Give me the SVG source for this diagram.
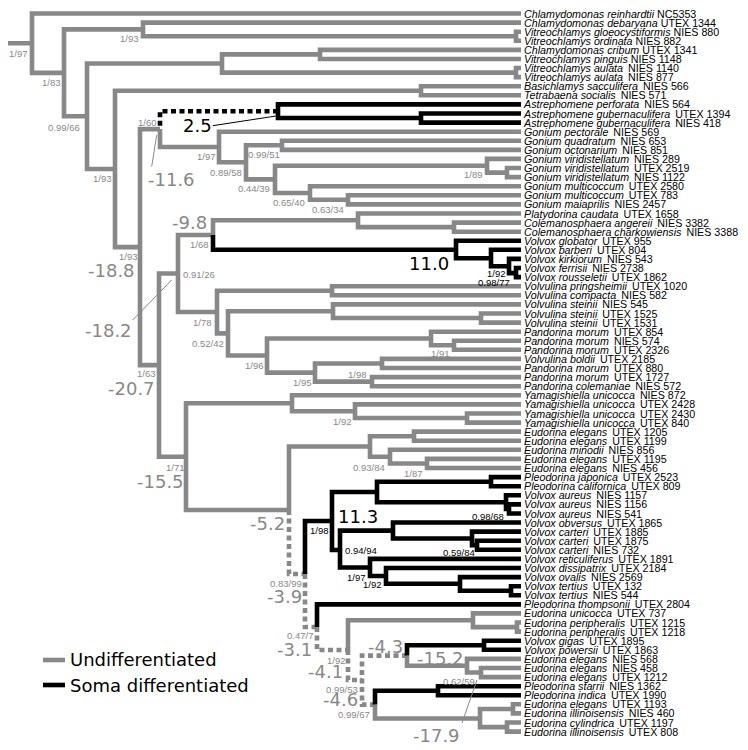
<svg xmlns="http://www.w3.org/2000/svg" width="748" height="750" viewBox="0 0 748 750">
<style>
.g{fill:none;stroke:#888;stroke-width:4.6;stroke-linejoin:miter}
.b{fill:none;stroke:#000;stroke-width:4.6;stroke-linejoin:miter}
.gd{fill:none;stroke:#888;stroke-width:4.6;stroke-dasharray:5 3.5}
.bd{fill:none;stroke:#000;stroke-width:4.6;stroke-dasharray:5 3.5}
.pg{fill:none;stroke:#888;stroke-width:1}
.pb{fill:none;stroke:#000;stroke-width:1}
.lf{font-family:"Liberation Sans",Arial,sans-serif;font-size:10.7px;fill:#000}
.i{font-style:italic}
.s{font-family:"Liberation Sans",Arial,sans-serif;font-size:9.5px;fill:#888}
.sb{font-family:"Liberation Sans",Arial,sans-serif;font-size:9.5px;fill:#000}
.big{font-family:"DejaVu Sans",sans-serif;font-size:18px;fill:#888}
.bigb{font-family:"DejaVu Sans",sans-serif;font-size:18px;fill:#000}
.leg{font-family:"DejaVu Sans",sans-serif;font-size:18px;fill:#000}
</style>
<rect width="748" height="750" fill="#fff"/>
<g id="connectors">
<path class="g" d="M8 43.2H32M521 13.5H32V72.9H64M143 29.4H64V116.2H87M521 22.6H143V36.2H516M521 31.7H516V40.8H521M222 63.5H87V169H115M320 54.4H222V72.6H516M521 49.9H320V59H521M521 68H516V77.1H521M421 90.8H115V247.1H140M521 86.2H421V95.3H521M160 129.1H140V365.1H159M160 129.1V147H219M521 131.7H219V162.3H246M282 145.3H246V179.4H275M521 140.8H282V149.9H521M487 165.7H275V193H310M521 158.9H487V172.6H507M521 168H507V177.1H521M521 186.2H310V199.8H348M521 195.3H348V204.4H521"/>
<path class="g" d="M178 273.5H159V456.7H186M213 235H178V312H217M358 220.3H213V235M521 213.5H358V227.1H454M521 222.6H454V231.7H521M332 290.7H217V333.4H228M521 286.2H332V295.3H521M333 311.2H228V355.5H267M521 304.4H333V318H481M521 313.5H481V322.6H521M431 338.5H267V372.6H315M521 331.7H431V345.3H454M521 340.7H454V349.8H521M382 363.5H315V381.6H372M521 358.9H382V368H521M521 377.1H372V386.2H521"/>
<path class="g" d="M292 403.3H186V510H289M521 395.3H292V411.2H355M521 404.4H355V418H467M521 413.5H467V422.6H521M370 446.5H289V510M414 436.2H370V456.7H390M521 431.6H414V440.7H521M521 449.8H390V463.5H427M521 458.9H427V468H521"/>
<path class="g" d="M473 620.3H348V650M521 613.4H473V627.1H517M521 622.5H517V631.6H521M407 655.6V665.8H467M521 658.9H467V672.5H481M521 668H481V677.1H521M375 704.6V718.5H480M513 709H480V727.1H507M521 704.3H513V713.4H521M521 722.5H507V731.6H521"/>
<path class="gd" d="M289 510V574H305M305 574V627H317M317 627V650H348M348 650V680H362M407 655.6H362V704.6H375"/>
<path class="bd" d="M278 111.2H160V129.1"/>
<path class="b" d="M521 104.4H278V118H421M521 113.5H421V122.6H521M213 235V249.8H456M521 240.8H456V258.3H491M521 249.8H491V266.3H509M521 258.9H509V273.1H516M521 268H516V277.1H521"/>
<path class="b" d="M332 521H305V574M377 492H332V550H340M491 481.7H377V502.2H506M521 477.1H491V486.2H521M521 495.3H506V509H509M521 504.4H509V513.5H521M393 530.6H340V567.5H370M521 522.5H393V538.5H472M521 531.6H472V545.3H477M521 540.7H477V549.8H521M521 558.9H370V576H386M521 568H386V583.8H460M521 577.1H460V590.7H511M521 586.2H511V595.3H521"/>
<path class="b" d="M521 604.4H317V627M484 645.3H407V655.6M521 640.7H484V649.8H521M438 690.7H375V704.6M521 686.2H438V695.3H521"/>
<path class="pb" d="M212.7 125.7L276 116"/>
<path class="pg" d="M151.7 166.7L156.7 135M132.7 320L171.7 280M462 723L477 680"/>
</g>
<g id="leaves" class="lf">
<g id="leaf1"><text x="524" y="17.5"><tspan class="i">Chlamydomonas reinhardtii</tspan> NC5353</text></g>
<g id="leaf2"><text x="524" y="26.6"><tspan class="i">Chlamydomonas debaryana</tspan> UTEX 1344</text></g>
<g id="leaf3"><text x="524" y="35.7"><tspan class="i">Vitreochlamys gloeocystiformis</tspan> NIES 880</text></g>
<g id="leaf4"><text x="524" y="44.8"><tspan class="i">Vitreochlamys ordinata</tspan> NIES 882</text></g>
<g id="leaf5"><text x="524" y="53.9"><tspan class="i">Chlamydomonas cribum</tspan> UTEX 1341</text></g>
<g id="leaf6"><text x="524" y="63"><tspan class="i">Vitreochlamys pinguis</tspan> NIES 1148</text></g>
<g id="leaf7"><text x="524" y="72"><tspan class="i">Vitreochlamys aulata</tspan><tspan dx="2"> NIES 1140</tspan></text></g>
<g id="leaf8"><text x="524" y="81.1"><tspan class="i">Vitreochlamys aulata</tspan><tspan dx="2"> NIES 877</tspan></text></g>
<g id="leaf9"><text x="524" y="90.2"><tspan class="i">Basichlamys sacculifera</tspan><tspan dx="2"> NIES 566</tspan></text></g>
<g id="leaf10"><text x="524" y="99.3"><tspan class="i">Tetrabaena socialis</tspan><tspan dx="2"> NIES 571</tspan></text></g>
<g id="leaf11"><text x="524" y="108.4"><tspan class="i">Astrephomene perforata</tspan><tspan dx="2"> NIES 564</tspan></text></g>
<g id="leaf12"><text x="524" y="117.5"><tspan class="i">Astrephomene gubernaculifera</tspan><tspan dx="2"> UTEX 1394</tspan></text></g>
<g id="leaf13"><text x="524" y="126.6"><tspan class="i">Astrephomene gubernaculifera</tspan><tspan dx="2"> NIES 418</tspan></text></g>
<g id="leaf14"><text x="524" y="135.7"><tspan class="i">Gonium pectorale</tspan><tspan dx="2"> NIES 569</tspan></text></g>
<g id="leaf15"><text x="524" y="144.8"><tspan class="i">Gonium quadratum</tspan><tspan dx="2"> NIES 653</tspan></text></g>
<g id="leaf16"><text x="524" y="153.9"><tspan class="i">Gonium octonarium</tspan><tspan dx="2"> NIES 851</tspan></text></g>
<g id="leaf17"><text x="524" y="162.9"><tspan class="i">Gonium viridistellatum</tspan><tspan dx="2"> NIES 289</tspan></text></g>
<g id="leaf18"><text x="524" y="172"><tspan class="i">Gonium viridistellatum</tspan><tspan dx="2"> UTEX 2519</tspan></text></g>
<g id="leaf19"><text x="524" y="181.1"><tspan class="i">Gonium viridistellatum</tspan><tspan dx="2"> NIES 1122</tspan></text></g>
<g id="leaf20"><text x="524" y="190.2"><tspan class="i">Gonium multicoccum</tspan><tspan dx="2"> UTEX 2580</tspan></text></g>
<g id="leaf21"><text x="524" y="199.3"><tspan class="i">Gonium multicoccum</tspan><tspan dx="2"> UTEX 783</tspan></text></g>
<g id="leaf22"><text x="524" y="208.4"><tspan class="i">Gonium maiaprilis</tspan><tspan dx="2"> NIES 2457</tspan></text></g>
<g id="leaf23"><text x="524" y="217.5"><tspan class="i">Platydorina caudata</tspan><tspan dx="2"> UTEX 1658</tspan></text></g>
<g id="leaf24"><text x="524" y="226.6"><tspan class="i">Colemanosphaera angereii</tspan><tspan dx="2"> NIES 3382</tspan></text></g>
<g id="leaf25"><text x="524" y="235.7"><tspan class="i">Colemanosphaera charkowiensis</tspan><tspan dx="2"> NIES 3388</tspan></text></g>
<g id="leaf26"><text x="524" y="244.8"><tspan class="i">Volvox globator</tspan><tspan dx="2"> UTEX 955</tspan></text></g>
<g id="leaf27"><text x="524" y="253.8"><tspan class="i">Volvox barberi</tspan><tspan dx="2"> UTEX 804</tspan></text></g>
<g id="leaf28"><text x="524" y="262.9"><tspan class="i">Volvox kirkiorum</tspan><tspan dx="2"> NIES 543</tspan></text></g>
<g id="leaf29"><text x="524" y="272"><tspan class="i">Volvox ferrisii</tspan><tspan dx="2"> NIES 2738</tspan></text></g>
<g id="leaf30"><text x="524" y="281.1"><tspan class="i">Volvox rousseletii</tspan><tspan dx="2"> UTEX 1862</tspan></text></g>
<g id="leaf31"><text x="524" y="290.2"><tspan class="i">Volvulina pringsheimii</tspan><tspan dx="2"> UTEX 1020</tspan></text></g>
<g id="leaf32"><text x="524" y="299.3"><tspan class="i">Volvulina compacta</tspan><tspan dx="2"> NIES 582</tspan></text></g>
<g id="leaf33"><text x="524" y="308.4"><tspan class="i">Volvulina steinii</tspan><tspan dx="2"> NIES 545</tspan></text></g>
<g id="leaf34"><text x="524" y="317.5"><tspan class="i">Volvulina steinii</tspan><tspan dx="2"> UTEX 1525</tspan></text></g>
<g id="leaf35"><text x="524" y="326.6"><tspan class="i">Volvulina steinii</tspan><tspan dx="2"> UTEX 1531</tspan></text></g>
<g id="leaf36"><text x="524" y="335.7"><tspan class="i">Pandorina morum</tspan><tspan dx="2"> UTEX 854</tspan></text></g>
<g id="leaf37"><text x="524" y="344.7"><tspan class="i">Pandorina morum</tspan><tspan dx="2"> NIES 574</tspan></text></g>
<g id="leaf38"><text x="524" y="353.8"><tspan class="i">Pandorina morum</tspan><tspan dx="2"> UTEX 2326</tspan></text></g>
<g id="leaf39"><text x="524" y="362.9"><tspan class="i">Volvulina boldii</tspan><tspan dx="2"> UTEX 2185</tspan></text></g>
<g id="leaf40"><text x="524" y="372"><tspan class="i">Pandorina morum</tspan><tspan dx="2"> UTEX 880</tspan></text></g>
<g id="leaf41"><text x="524" y="381.1"><tspan class="i">Pandorina morum</tspan><tspan dx="2"> UTEX 1727</tspan></text></g>
<g id="leaf42"><text x="524" y="390.2"><tspan class="i">Pandorina colemaniae</tspan><tspan dx="2"> NIES 572</tspan></text></g>
<g id="leaf43"><text x="524" y="399.3"><tspan class="i">Yamagishiella unicocca</tspan><tspan dx="2"> NIES 872</tspan></text></g>
<g id="leaf44"><text x="524" y="408.4"><tspan class="i">Yamagishiella unicocca</tspan><tspan dx="2"> UTEX 2428</tspan></text></g>
<g id="leaf45"><text x="524" y="417.5"><tspan class="i">Yamagishiella unicocca</tspan><tspan dx="2"> UTEX 2430</tspan></text></g>
<g id="leaf46"><text x="524" y="426.6"><tspan class="i">Yamagishiella unicocca</tspan><tspan dx="2"> UTEX 840</tspan></text></g>
<g id="leaf47"><text x="524" y="435.6"><tspan class="i">Eudorina elegans</tspan><tspan dx="2"> UTEX 1205</tspan></text></g>
<g id="leaf48"><text x="524" y="444.7"><tspan class="i">Eudorina elegans</tspan><tspan dx="2"> UTEX 1199</tspan></text></g>
<g id="leaf49"><text x="524" y="453.8"><tspan class="i">Eudorina minodii</tspan><tspan dx="2"> NIES 856</tspan></text></g>
<g id="leaf50"><text x="524" y="462.9"><tspan class="i">Eudorina elegans</tspan><tspan dx="2"> UTEX 1195</tspan></text></g>
<g id="leaf51"><text x="524" y="472"><tspan class="i">Eudorina elegans</tspan><tspan dx="2"> NIES 456</tspan></text></g>
<g id="leaf52"><text x="524" y="481.1"><tspan class="i">Pleodorina japonica</tspan><tspan dx="2"> UTEX 2523</tspan></text></g>
<g id="leaf53"><text x="524" y="490.2"><tspan class="i">Pleodorina californica</tspan><tspan dx="2"> UTEX 809</tspan></text></g>
<g id="leaf54"><text x="524" y="499.3"><tspan class="i">Volvox aureus</tspan><tspan dx="2"> NIES 1157</tspan></text></g>
<g id="leaf55"><text x="524" y="508.4"><tspan class="i">Volvox aureus</tspan><tspan dx="2"> NIES 1156</tspan></text></g>
<g id="leaf56"><text x="524" y="517.5"><tspan class="i">Volvox aureus</tspan><tspan dx="2"> NIES 541</tspan></text></g>
<g id="leaf57"><text x="524" y="526.5"><tspan class="i">Volvox obversus</tspan><tspan dx="2"> UTEX 1865</tspan></text></g>
<g id="leaf58"><text x="524" y="535.6"><tspan class="i">Volvox carteri</tspan><tspan dx="2"> UTEX 1885</tspan></text></g>
<g id="leaf59"><text x="524" y="544.7"><tspan class="i">Volvox carteri</tspan><tspan dx="2"> UTEX 1875</tspan></text></g>
<g id="leaf60"><text x="524" y="553.8"><tspan class="i">Volvox carteri</tspan><tspan dx="2"> NIES 732</tspan></text></g>
<g id="leaf61"><text x="524" y="562.9"><tspan class="i">Volvox reticuliferus</tspan><tspan dx="2"> UTEX 1891</tspan></text></g>
<g id="leaf62"><text x="524" y="572"><tspan class="i">Volvox dissipatrix</tspan><tspan dx="2"> UTEX 2184</tspan></text></g>
<g id="leaf63"><text x="524" y="581.1"><tspan class="i">Volvox ovalis</tspan><tspan dx="2"> NIES 2569</tspan></text></g>
<g id="leaf64"><text x="524" y="590.2"><tspan class="i">Volvox tertius</tspan><tspan dx="2"> UTEX 132</tspan></text></g>
<g id="leaf65"><text x="524" y="599.3"><tspan class="i">Volvox tertius</tspan><tspan dx="2"> NIES 544</tspan></text></g>
<g id="leaf66"><text x="524" y="608.4"><tspan class="i">Pleodorina thompsonii</tspan><tspan dx="2"> UTEX 2804</tspan></text></g>
<g id="leaf67"><text x="524" y="617.4"><tspan class="i">Eudorina unicocca</tspan><tspan dx="2"> UTEX 737</tspan></text></g>
<g id="leaf68"><text x="524" y="626.5"><tspan class="i">Eudorina peripheralis</tspan><tspan dx="2"> UTEX 1215</tspan></text></g>
<g id="leaf69"><text x="524" y="635.6"><tspan class="i">Eudorina peripheralis</tspan><tspan dx="2"> UTEX 1218</tspan></text></g>
<g id="leaf70"><text x="524" y="644.7"><tspan class="i">Volvox gigas</tspan><tspan dx="2"> UTEX 1895</tspan></text></g>
<g id="leaf71"><text x="524" y="653.8"><tspan class="i">Volvox powersii</tspan><tspan dx="2"> UTEX 1863</tspan></text></g>
<g id="leaf72"><text x="524" y="662.9"><tspan class="i">Eudorina elegans</tspan><tspan dx="2"> NIES 568</tspan></text></g>
<g id="leaf73"><text x="524" y="672"><tspan class="i">Eudorina elegans</tspan><tspan dx="2"> NIES 458</tspan></text></g>
<g id="leaf74"><text x="524" y="681.1"><tspan class="i">Eudorina elegans</tspan><tspan dx="2"> UTEX 1212</tspan></text></g>
<g id="leaf75"><text x="524" y="690.2"><tspan class="i">Pleodorina starrii</tspan><tspan dx="2"> NIES 1362</tspan></text></g>
<g id="leaf76"><text x="524" y="699.3"><tspan class="i">Pleodorina indica</tspan><tspan dx="2"> UTEX 1990</tspan></text></g>
<g id="leaf77"><text x="524" y="708.3"><tspan class="i">Eudorina elegans</tspan><tspan dx="2"> UTEX 1193</tspan></text></g>
<g id="leaf78"><text x="524" y="717.4"><tspan class="i">Eudorina illinoisensis</tspan><tspan dx="2"> NIES 460</tspan></text></g>
<g id="leaf79"><text x="524" y="726.5"><tspan class="i">Eudorina cylindrica</tspan><tspan dx="2"> UTEX 1197</tspan></text></g>
<g id="leaf80"><text x="524" y="735.6"><tspan class="i">Eudorina illinoisensis</tspan><tspan dx="2"> UTEX 808</tspan></text></g>
</g>
<g id="support">
<text class="s" x="9" y="57">1/97</text>
<text class="s" x="120" y="42">1/93</text>
<text class="s" x="42" y="85.5">1/83</text>
<text class="s" x="48" y="130.5">0.99/66</text>
<text class="s" x="93" y="181.5">1/93</text>
<text class="s" x="138" y="125.5">1/60</text>
<text class="s" x="197" y="159.5">1/97</text>
<text class="s" x="248" y="157.5">0.99/51</text>
<text class="s" x="210" y="175.5">0.89/58</text>
<text class="s" x="238" y="191.5">0.44/39</text>
<text class="s" x="273" y="205.5">0.65/40</text>
<text class="s" x="312" y="212.5">0.63/34</text>
<text class="s" x="464" y="177.5">1/89</text>
<text class="s" x="190" y="247.5">1/68</text>
<text class="s" x="119" y="259.5">1/93</text>
<text class="s" x="183" y="277.5">0.91/26</text>
<text class="s" x="193" y="325.5">1/78</text>
<text class="s" x="192" y="346.5">0.52/42</text>
<text class="s" x="245" y="368.5">1/96</text>
<text class="s" x="431" y="356.5">1/91</text>
<text class="s" x="137" y="377">1/63</text>
<text class="s" x="293" y="385.5">1/95</text>
<text class="s" x="348" y="377.5">1/98</text>
<text class="s" x="333" y="424.5">1/92</text>
<text class="s" x="166" y="470.5">1/71</text>
<text class="s" x="353" y="470.5">0.93/84</text>
<text class="s" x="404" y="476.5">1/87</text>
<text class="s" x="270" y="586.5">0.83/99</text>
<text class="s" x="287" y="638.5">0.47/7</text>
<text class="s" x="327" y="663.5">1/92</text>
<text class="s" x="326" y="692.5">0.99/53</text>
<text class="s" x="338" y="717.5">0.99/67</text>
<text class="s" x="443" y="684.5">0.62/59</text>
<text class="sb" x="487" y="276.5">1/92</text>
<text class="sb" x="478" y="285.5">0.98/77</text>
<text class="sb" x="472" y="519.5">0.98/68</text>
<text class="sb" x="310" y="533.5">1/98</text>
<text class="sb" x="345" y="553.5">0.94/94</text>
<text class="sb" x="443" y="555.5">0.59/84</text>
<text class="sb" x="347" y="580.5">1/97</text>
<text class="sb" x="363" y="587.5">1/92</text>
</g>
<g id="estimates">
<text class="big" x="148" y="185.5">-11.6</text>
<text class="big" x="88" y="277">-18.8</text>
<text class="big" x="85" y="337">-18.2</text>
<text class="big" x="172" y="229">-9.8</text>
<text class="big" x="108" y="395">-20.7</text>
<text class="big" x="137" y="487.5">-15.5</text>
<text class="big" x="250" y="530">-5.2</text>
<text class="big" x="267" y="602.5">-3.9</text>
<text class="big" x="277" y="656">-3.1</text>
<text class="big" x="308" y="678">-4.1</text>
<text class="big" x="323" y="706">-4.6</text>
<text class="big" x="368" y="653">-4.3</text>
<text class="big" x="417" y="665">-15.2</text>
<text class="big" x="413" y="741.5">-17.9</text>
<text class="bigb" x="183" y="132">2.5</text>
<text class="bigb" x="409" y="270">11.0</text>
<text class="bigb" x="338" y="522.5">11.3</text>
</g>
<g id="legend">
<path class="g" d="M43 660H65"/>
<path class="b" d="M43 685H65"/>
<text class="leg" x="70" y="665.5">Undifferentiated</text>
<text class="leg" x="70" y="691.5">Soma differentiated</text>
</g>
</svg>
